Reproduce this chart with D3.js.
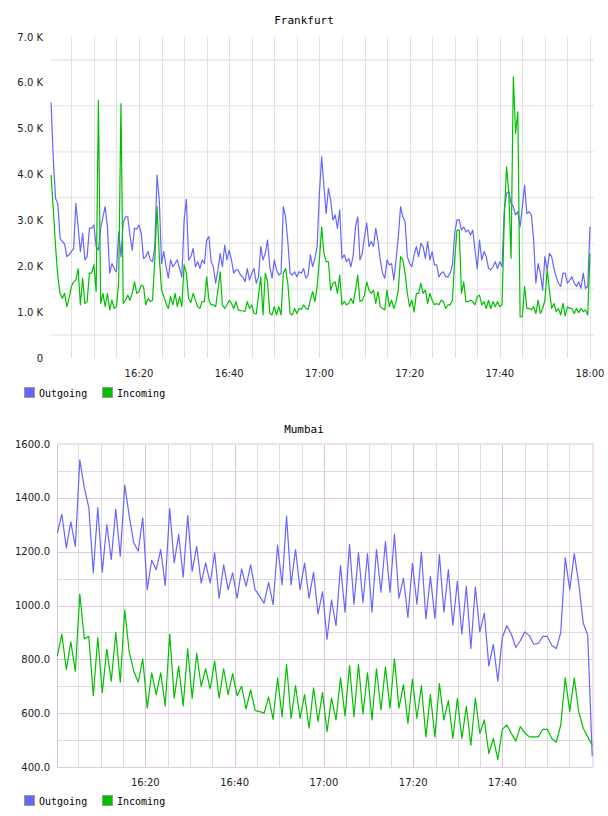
<!DOCTYPE html>
<html><head><meta charset="utf-8">
<script src="https://cdn.jsdelivr.net/npm/d3@7"></script>
<style>body{margin:0;background:#fff}</style>
</head><body>
<svg id="c" width="608" height="816"></svg>
<script>
// ---------- data ----------
const seriesNames = ["Outgoing", "Incoming"];
const seriesColors = ["#6666ff", "#00c000"];
const timeTickLabels = ["16:20", "16:40", "17:00", "17:20", "17:40", "18:00"];

// Frankfurt (values in K), one sample every 30 s starting 16:00:30
const frankfurtTitle = "Frankfurt";
const frankfurtStart = "16:00:30";
const frankfurtStepSec = 30;
const frankfurtOutgoing = [
  5.57,4.32,3.48,3.37,2.61,2.54,2.49,2.21,2.25,2.32,2.39,3.37,2.86,2.32,2.72,2.14,2.21,2.83,2.83,2.90,
  2.43,2.35,2.83,3.08,3.30,2.86,1.85,2.06,1.95,1.88,2.75,2.21,2.94,3.08,3.08,2.68,2.35,2.83,2.81,2.90,
  2.72,2.17,2.21,2.32,2.14,2.10,2.43,3.99,3.44,2.06,2.32,1.99,1.74,2.14,1.99,2.06,2.14,1.95,1.77,3.00,
  3.46,2.14,2.21,2.39,1.99,2.10,1.95,2.14,2.06,2.57,2.65,2.10,1.99,1.63,1.92,2.28,1.99,2.46,2.14,2.35,
  2.14,1.85,1.92,1.92,1.81,1.77,1.66,1.95,1.70,1.85,1.95,1.63,1.77,2.43,2.14,2.28,2.57,1.99,1.74,2.14,
  1.92,1.81,1.85,3.30,3.08,2.54,1.85,1.81,1.88,1.77,1.88,1.85,1.95,1.74,1.81,2.25,1.99,2.17,2.43,3.59,
  4.39,3.74,3.15,3.70,3.44,3.01,3.12,2.83,3.23,2.17,2.25,2.10,2.17,1.99,2.25,2.86,3.08,2.14,2.28,2.65,
  2.94,2.43,2.54,2.43,2.83,2.54,2.14,1.85,1.74,2.14,2.03,2.06,1.70,2.14,2.65,3.30,3.08,2.97,2.21,2.06,
  1.99,2.25,2.43,2.21,2.50,2.43,2.17,2.54,2.14,2.32,2.03,2.03,1.77,1.85,1.88,1.77,1.77,1.85,2.03,2.72,
  3.01,3.01,2.79,2.86,2.75,2.79,2.68,2.79,2.35,1.95,2.57,2.14,2.32,2.21,1.95,1.92,1.99,2.10,1.95,2.10,
  1.99,3.23,3.59,3.63,3.37,3.30,3.12,3.19,2.86,3.30,3.77,3.15,3.19,3.12,2.57,1.63,2.06,1.85,1.48,2.21,
  1.92,2.28,2.21,1.95,1.77,1.63,1.56,1.85,1.85,1.63,1.70,1.77,1.63,1.56,1.66,1.52,1.85,1.52,1.56,2.86
];
const frankfurtIncoming = [
  3.99,3.23,2.43,1.77,1.41,1.30,1.41,1.12,1.30,1.56,1.66,1.70,1.95,1.16,1.74,1.19,1.23,1.85,1.85,2.03,
  1.45,5.62,1.19,1.41,1.12,1.41,1.05,1.26,1.08,1.12,1.66,5.55,1.19,1.26,1.37,1.26,1.41,1.66,1.41,1.45,
  1.59,1.56,1.16,1.30,1.23,1.26,2.14,3.30,2.21,1.48,1.34,1.19,1.08,1.34,1.16,1.41,1.12,1.34,1.12,2.03,
  1.85,1.30,1.21,1.41,1.26,1.12,1.08,1.23,1.23,1.77,1.26,1.16,1.16,1.12,1.48,1.88,1.16,1.08,1.16,1.26,
  1.19,1.08,1.23,1.05,1.03,1.03,1.01,1.23,1.08,1.16,0.97,0.96,1.37,1.77,0.94,1.85,1.66,0.97,0.94,1.12,
  0.94,1.12,0.94,1.85,1.95,1.63,0.97,0.94,1.08,0.97,1.08,1.06,1.16,1.08,1.06,1.26,1.45,1.23,1.56,2.14,
  2.86,2.28,2.10,2.10,1.48,1.63,1.66,1.41,1.81,1.16,1.23,1.16,1.19,1.30,1.19,1.48,1.81,1.23,1.26,1.37,
  1.66,1.48,1.41,1.48,1.19,1.45,1.12,1.08,1.05,1.48,1.12,1.26,1.08,1.23,1.48,2.21,2.14,1.85,1.41,1.12,
  1.26,1.00,1.41,1.41,1.63,1.41,1.48,1.19,1.41,1.26,1.16,1.19,1.16,1.26,1.23,1.08,1.16,1.16,1.26,2.14,
  2.79,2.79,1.41,1.66,1.23,1.23,1.26,1.23,1.16,1.34,1.37,1.16,1.23,1.08,1.26,1.08,1.23,1.12,1.23,1.12,
  1.16,3.08,4.17,3.59,2.17,6.13,4.90,5.37,0.90,0.90,1.56,1.08,1.08,1.05,1.12,0.97,1.26,0.97,1.08,1.26,
  1.92,1.48,1.08,1.19,1.01,1.08,0.94,1.19,0.92,1.12,1.08,1.08,0.97,1.08,0.99,1.08,1.01,1.05,0.94,2.28
];
const frankfurtYTicks = [0, 1, 2, 3, 4, 5, 6, 7];
const frankfurtYGrid = [0.5, 1.5, 2.5, 3.5, 4.5, 5.5, 6.5];

// Mumbai, one sample about every minute starting 16:00:18
const mumbaiTitle = "Mumbai";
const mumbaiStart = "16:00:18";
const mumbaiStepSec = 60.4;
const mumbaiOutgoing = [
  1270,1339,1214,1311,1220,1541,1438,1364,1121,1364,1124,1301,1171,1357,1183,1447,1332,1233,1202,1326,
  1059,1168,1133,1208,1075,1360,1158,1264,1105,1334,1127,1220,1083,1158,1083,1196,1027,1151,1059,1121,
  1027,1136,1071,1151,1059,1035,1009,1086,1003,1224,1077,1332,1077,1208,1059,1158,
  1027,1123,969,1052,875,1021,925,1148,975,1227,1005,1196,1011,1193,975,1208,1049,1237,1049,1264,
  1027,1102,956,1156,1005,1198,950,1108,952,1189,975,1133,927,1090,894,1071,840,1069,902,972,
  775,856,719,881,925,894,844,869,902,888,856,859,885,885,852,840,900,1177,1059,1193,
  1083,935,890,440
];
const mumbaiIncoming = [
  812,894,762,865,756,1042,877,885,665,881,677,837,719,900,715,983,827,756,715,802,
  619,750,669,750,627,894,656,775,627,840,656,822,700,765,690,794,656,765,669,747,
  665,700,615,687,610,606,600,660,577,731,587,781,581,702,581,669,
  544,694,569,677,531,656,575,731,590,777,587,781,597,750,575,765,612,772,619,802,
  619,706,562,727,581,702,512,669,512,710,575,647,506,654,506,625,481,656,525,575,
  450,506,427,540,556,525,496,550,527,512,512,512,540,540,506,492,556,731,606,731,
  606,544,512,481
];
const mumbaiYTicks = [400, 600, 800, 1000, 1200, 1400, 1600];
const mumbaiYMinor = [500, 700, 900, 1100, 1300, 1500];

// ---------- drawing ----------
const svg = d3.select("#c");
const parse = d3.timeParse("%H:%M:%S");
const tStart = parse("16:00:00"), tEnd = parse("18:00:00");
const fmtTime = d3.timeFormat("%H:%M");
const axisFont = "DejaVu Sans, Verdana, sans-serif";
const monoFont = "DejaVu Sans Mono, monospace";

function toPoints(values, start, stepSec) {
  const t0 = parse(start);
  return values.map((v, i) => ({ t: new Date(t0.getTime() + i * stepSec * 1000), v }));
}
function fiveMinTicks(from, to) {
  return d3.timeMinute.every(5).range(parse(from), new Date(parse(to).getTime() + 1));
}

function legend(g, y) {
  seriesNames.forEach((name, i) => {
    const x0 = i === 0 ? 24 : 102;
    g.append("rect").attr("x", x0 + 0.5).attr("y", y - 5.5).attr("width", 10).attr("height", 10)
      .attr("fill", seriesColors[i]).attr("stroke", "#999").attr("stroke-width", 1);
    g.append("text").attr("x", x0 + 15).attr("y", y).attr("dy", "0.35em")
      .attr("font-family", monoFont).attr("font-size", 10).attr("fill", "#000").text(name);
  });
}

// ---- Frankfurt ----
{
  const g = svg.append("g");
  const x = d3.scaleTime().domain([tStart, tEnd]).range([48.8, 590]);
  const y = d3.scaleLinear().domain([0, 7]).range([358, 37]);
  const left = 51, right = 594;

  g.append("text").attr("x", 304).attr("y", 20).attr("dy", "0.35em").attr("text-anchor", "middle")
    .attr("font-family", monoFont).attr("font-size", 11).text(frankfurtTitle);

  g.selectAll(".hg").data(frankfurtYGrid).join("line")
    .attr("x1", left).attr("x2", right).attr("y1", d => y(d)).attr("y2", d => y(d))
    .attr("stroke", "#eeeeee").attr("stroke-width", 2);
  g.selectAll(".vg").data(fiveMinTicks("16:05:00", "18:00:00")).join("line")
    .attr("x1", d => Math.round(x(d)) + 0.5).attr("x2", d => Math.round(x(d)) + 0.5)
    .attr("y1", y(7)).attr("y2", y(0)).attr("stroke", "#e2e2e2").attr("stroke-width", 1);

  g.selectAll(".yl").data(frankfurtYTicks).join("text")
    .attr("x", 43).attr("y", d => y(d)).attr("dy", "0.35em").attr("text-anchor", "end")
    .attr("font-family", axisFont).attr("font-size", 10).attr("fill", "#222")
    .text(d => d === 0 ? "0" : d.toFixed(1) + " K");

  svg.append("clipPath").attr("id", "clipTop").append("rect")
    .attr("x", 0).attr("y", 0).attr("width", 604).attr("height", 400);
  g.append("g").attr("clip-path", "url(#clipTop)")
    .selectAll("text").data(timeTickLabels).join("text")
    .attr("x", d => x(parse(d + ":00"))).attr("y", 373).attr("dy", "0.35em").attr("text-anchor", "middle")
    .attr("font-family", axisFont).attr("font-size", 10).attr("fill", "#222").text(d => d);

  const line = d3.line().x(d => x(d.t)).y(d => y(d.v));
  [frankfurtOutgoing, frankfurtIncoming].forEach((vals, i) => {
    g.append("path").datum(toPoints(vals, frankfurtStart, frankfurtStepSec))
      .attr("d", line).attr("fill", "none").attr("stroke", seriesColors[i])
      .attr("stroke-width", 1.2).attr("stroke-linejoin", "round");
  });
  legend(g, 393);
}

// ---- Mumbai ----
{
  const g = svg.append("g");
  const x = d3.scaleTime().domain([tStart, tEnd]).range([56, 591.8]);
  const y = d3.scaleLinear().domain([400, 1600]).range([767, 444]);
  const left = 57, right = 593;

  g.append("text").attr("x", 304).attr("y", 429).attr("dy", "0.35em").attr("text-anchor", "middle")
    .attr("font-family", monoFont).attr("font-size", 11).text(mumbaiTitle);

  // minor grid
  g.selectAll(".hm").data(mumbaiYMinor).join("line")
    .attr("x1", left).attr("x2", right).attr("y1", d => Math.round(y(d)) + 0.5).attr("y2", d => Math.round(y(d)) + 0.5)
    .attr("stroke", "#dddddd");
  const vt = fiveMinTicks("16:05:00", "17:55:00");
  g.selectAll(".vm").data(vt.filter(d => d.getMinutes() % 20 !== 0)).join("line")
    .attr("x1", d => Math.round(x(d)) + 0.5).attr("x2", d => Math.round(x(d)) + 0.5)
    .attr("y1", y(1600)).attr("y2", y(400)).attr("stroke", "#dddddd");
  // major grid
  g.selectAll(".hM").data(mumbaiYTicks.filter(d => d > 400 && d < 1600)).join("line")
    .attr("x1", left).attr("x2", right).attr("y1", d => Math.round(y(d)) + 0.5).attr("y2", d => Math.round(y(d)) + 0.5)
    .attr("stroke", "#e2c8e2");
  g.selectAll(".vM").data(vt.filter(d => d.getMinutes() % 20 === 0)).join("line")
    .attr("x1", d => Math.round(x(d)) + 0.5).attr("x2", d => Math.round(x(d)) + 0.5)
    .attr("y1", y(1600)).attr("y2", y(400)).attr("stroke", "#dcc0dc");
  // frame
  g.append("line").attr("x1", left).attr("x2", right).attr("y1", 444).attr("y2", 444)
    .attr("stroke", "#f0e0f0").attr("stroke-width", 2);
  g.append("line").attr("x1", right).attr("x2", right).attr("y1", 443).attr("y2", 767)
    .attr("stroke", "#f0e0f0").attr("stroke-width", 2);
  g.append("line").attr("x1", left + 0.5).attr("x2", left + 0.5).attr("y1", 444).attr("y2", 767)
    .attr("stroke", "#dcc0dc");
  g.append("line").attr("x1", left).attr("x2", right).attr("y1", 767.5).attr("y2", 767.5)
    .attr("stroke", "#e2c8e2");

  g.selectAll(".yl").data(mumbaiYTicks).join("text")
    .attr("x", 50).attr("y", d => y(d)).attr("dy", "0.35em").attr("text-anchor", "end")
    .attr("font-family", axisFont).attr("font-size", 10).attr("fill", "#222")
    .text(d => d.toFixed(1));

  g.selectAll(".xl").data(timeTickLabels.slice(0, 5)).join("text")
    .attr("x", d => x(parse(d + ":00"))).attr("y", 782).attr("dy", "0.35em").attr("text-anchor", "middle")
    .attr("font-family", axisFont).attr("font-size", 10).attr("fill", "#222").text(d => d);

  const line = d3.line().x(d => x(d.t)).y(d => y(d.v));
  [mumbaiOutgoing, mumbaiIncoming].forEach((vals, i) => {
    g.append("path").datum(toPoints(vals, mumbaiStart, mumbaiStepSec))
      .attr("d", line).attr("fill", "none").attr("stroke", seriesColors[i])
      .attr("stroke-width", 1.2).attr("stroke-linejoin", "round");
  });
  legend(g, 801);
}
</script>
</body></html>
